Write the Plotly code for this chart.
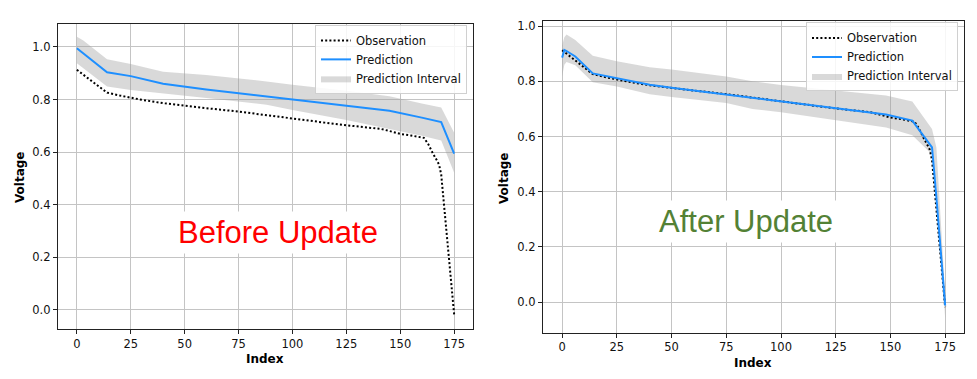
import plotly.graph_objects as go

W, H = 977, 379

# ---------------- data ----------------
obs_index = [0, 3, 7, 14, 20, 25, 30, 40, 50, 60, 75, 85, 100, 115, 125, 135, 141, 145,
             150, 155, 161, 163, 164, 165, 167, 168, 169, 170, 171, 172, 173, 174, 175]
obs_voltage = [0.913, 0.895, 0.868, 0.826, 0.815, 0.806, 0.799, 0.786, 0.776, 0.767, 0.754,
               0.743, 0.727, 0.712, 0.702, 0.694, 0.688, 0.680, 0.669, 0.663, 0.654, 0.630,
               0.612, 0.597, 0.568, 0.552, 0.515, 0.425, 0.335, 0.240, 0.160, 0.080, -0.018]

before_index = [0, 3, 14, 25, 40, 60, 88, 100, 125, 145, 160, 169, 175]
before_pred = [0.995, 0.975, 0.904, 0.889, 0.860, 0.838, 0.812, 0.800, 0.777, 0.757,
               0.731, 0.714, 0.594]
before_upper = [1.039, 1.025, 0.953, 0.935, 0.906, 0.893, 0.869, 0.856, 0.833, 0.812,
                0.785, 0.770, 0.673]
before_lower = [0.938, 0.918, 0.850, 0.836, 0.824, 0.806, 0.780, 0.760, 0.722, 0.688,
                0.662, 0.644, 0.521]

after_index = [0, 1, 2, 6, 14, 25, 40, 50, 75, 87, 100, 125, 140, 148, 160, 169, 171, 175]
after_pred = [0.886, 0.914, 0.910, 0.890, 0.829, 0.812, 0.788, 0.777, 0.752, 0.740, 0.727,
              0.703, 0.688, 0.680, 0.658, 0.561, 0.380, -0.012]
after_upper = [0.930, 0.960, 0.970, 0.950, 0.893, 0.873, 0.851, 0.843, 0.818, 0.800, 0.787,
               0.768, 0.756, 0.749, 0.727, 0.627, 0.560, 0.030]
after_lower = [0.818, 0.860, 0.870, 0.858, 0.797, 0.781, 0.753, 0.743, 0.722, 0.700, 0.688,
               0.661, 0.642, 0.633, 0.605, 0.535, 0.420, -0.059]

x_ticks = [0, 25, 50, 75, 100, 125, 150, 175]
y_ticks = [0.0, 0.2, 0.4, 0.6, 0.8, 1.0]

series_names = ["Observation", "Prediction", "Prediction Interval"]
panel_titles = ["Before Update", "After Update"]

# ---------------- styles ----------------
BLUE = "#1e8fff"
BAND = "rgba(160,160,160,0.40)"
GRID = "#c4c4c4"
FRAME = "#222222"
TICKFONT = dict(family="DejaVu Sans", size=11.5, color="#111111")

fig = go.Figure()

panels = [
    dict(idx=before_index, pred=before_pred, up=before_upper, lo=before_lower,
         xa="x", ya="y", legend="legend"),
    dict(idx=after_index, pred=after_pred, up=after_upper, lo=after_lower,
         xa="x2", ya="y2", legend="legend2"),
]

for p in panels:
    fig.add_trace(go.Scatter(
        x=p["idx"] + p["idx"][::-1], y=p["up"] + p["lo"][::-1],
        fill="toself", fillcolor=BAND, mode="lines", line=dict(width=0),
        name=series_names[2], legendrank=3, hoverinfo="skip",
        xaxis=p["xa"], yaxis=p["ya"], legend=p["legend"]))
    fig.add_trace(go.Scatter(
        x=obs_index, y=obs_voltage, mode="lines",
        line=dict(color="black", width=2, dash="2px,2.2px"),
        name=series_names[0], legendrank=1,
        xaxis=p["xa"], yaxis=p["ya"], legend=p["legend"]))
    fig.add_trace(go.Scatter(
        x=p["idx"], y=p["pred"], mode="lines",
        line=dict(color=BLUE, width=2),
        name=series_names[1], legendrank=2,
        xaxis=p["xa"], yaxis=p["ya"], legend=p["legend"]))


def xaxis(domain, anchor):
    return dict(domain=domain, anchor=anchor, range=[-8.75, 183.75],
                tickvals=x_ticks, ticks="outside", ticklen=4, tickcolor=FRAME,
                showgrid=True, gridcolor=GRID, gridwidth=1, zeroline=False,
                showline=True, mirror=True, linecolor=FRAME, linewidth=1.2,
                tickfont=TICKFONT)


def yaxis(domain, anchor, rng):
    return dict(domain=domain, anchor=anchor, range=rng,
                tickvals=y_ticks, tickformat=".1f", ticks="outside", ticklen=4,
                tickcolor=FRAME, showgrid=True, gridcolor=GRID, gridwidth=1,
                zeroline=False, showline=True, mirror=True, linecolor=FRAME,
                linewidth=1.2, tickfont=TICKFONT)


legend_style = dict(font=dict(family="DejaVu Sans", size=11.5, color="#111111"),
                    bgcolor="rgba(255,255,255,0.85)", bordercolor="#d0d0d0",
                    borderwidth=1, xanchor="right", yanchor="top",
                    traceorder="normal", tracegroupgap=0)

fig.update_layout(
    width=W, height=H,
    margin=dict(l=0, r=0, t=0, b=0),
    paper_bgcolor="white", plot_bgcolor="white",
    xaxis=xaxis([58 / W, 473 / W], "y"),
    yaxis=yaxis([1 - 329 / H, 1 - 21.7 / H], "x", [-0.0746, 1.089]),
    xaxis2=xaxis([543 / W, 964.3 / W], "y2"),
    yaxis2=yaxis([1 - 332.3 / H, 1 - 19.3 / H], "x2", [-0.110, 1.018]),
    legend=dict(x=467 / W, y=1 - 23 / H, **legend_style),
    legend2=dict(x=958 / W, y=1 - 20.5 / H, **legend_style),
    showlegend=True,
)

ann = []
# axis titles
for (tx, ty, txt, ang) in [(20, 176, "Voltage", -90), (265, 359, "Index", 0),
                           (504, 177, "Voltage", -90), (753, 363, "Index", 0)]:
    ann.append(dict(x=tx / W, y=1 - ty / H, xref="paper", yref="paper", text=f"<b>{txt}</b>",
                    textangle=ang, showarrow=False, xanchor="center", yanchor="middle",
                    font=dict(family="DejaVu Sans", size=12, color="black")))
# panel labels
ann.append(dict(x=278 / W, y=1 - 232 / H, xref="paper", yref="paper", text=panel_titles[0],
                showarrow=False, xanchor="center", yanchor="middle", bgcolor="white",
                borderpad=3, font=dict(family="Liberation Sans, Arial", size=31, color="#ff0000")))
ann.append(dict(x=746 / W, y=1 - 221 / H, xref="paper", yref="paper", text=panel_titles[1],
                showarrow=False, xanchor="center", yanchor="middle", bgcolor="white",
                borderpad=3, font=dict(family="Liberation Sans, Arial", size=31, color="#538135")))
fig.update_layout(annotations=ann)

fig.write_html("out.html", config={"displayModeBar": False},
               post_script="document.body.style.margin='0';document.body.style.overflow='hidden';")
